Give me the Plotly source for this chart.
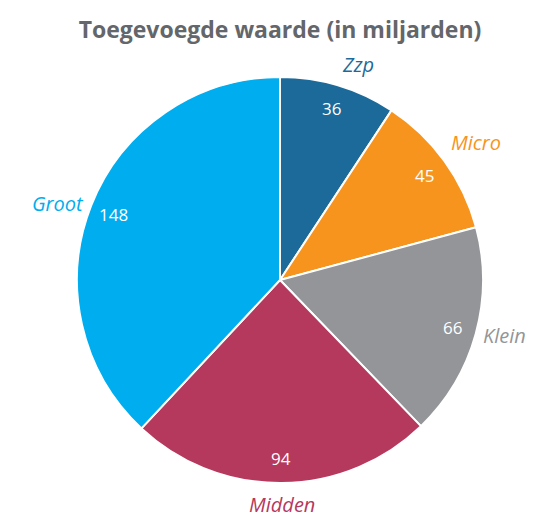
import math
import plotly.graph_objects as go

categories = ["Zzp", "Micro", "Klein", "Midden", "Groot"]
values = [36, 45, 66, 94, 148]
colors = ["#1b6a9a", "#f7941e", "#939598", "#b5395c", "#00adee"]
title_text = "Toegevoegde waarde (in miljarden)"

W, H = 534, 517
ml, mr, mt, mb = 69, 59, 69, 42
R_px = (W - ml - mr) / 2  # pie radius in pixels (square plot area)

fig = go.Figure()
fig.add_trace(go.Pie(values=values, labels=categories, sort=False, direction="clockwise",
                     rotation=0, hoverinfo="skip", showlegend=False, automargin=False,
                     marker=dict(colors=colors, line=dict(color="white", width=2)),
                     textinfo="none", domain=dict(x=[0, 1], y=[0, 1])))

# text placed along each slice's mid-angle (derived from the values)
total = sum(values)
cum = 0
annotations = []
for cat, val, col in zip(categories, values, colors):
    mid = 2 * math.pi * (cum + val / 2) / total
    cum += val
    s, c = math.sin(mid), math.cos(mid)
    # value label inside, near the rim
    kv = 0.88
    annotations.append(dict(x=0.5 + 0.5 * kv * s, y=0.5 + 0.5 * kv * c, xref="paper", yref="paper",
                            text=str(val), showarrow=False, xanchor="center", yanchor="middle",
                            font=dict(family="Open Sans", size=17, color="white")))
    # category label just outside the rim
    kl = 1 + 6 / R_px
    xa = "left" if s > 0.1 else ("right" if s < -0.1 else "center")
    ya = "bottom" if c > 0.5 else ("top" if c < -0.5 else "middle")
    annotations.append(dict(x=0.5 + 0.5 * kl * s, y=0.5 + 0.5 * kl * c, xref="paper", yref="paper",
                            text=cat, showarrow=False, xanchor=xa, yanchor=ya,
                            font=dict(family="Open Sans", size=20, color=col, style="italic")))

fig.update_layout(
    width=W, height=H,
    margin=dict(l=ml, r=mr, t=mt, b=mb),
    paper_bgcolor="white", plot_bgcolor="white",
    annotations=annotations,
    title=dict(text="<b>" + title_text + "</b>", x=0.5, xref="paper", y=1 - 22 / H,
               yanchor="middle", font=dict(family="Open Sans", size=23, color="#63666a")),
)

fig.write_html("out.html")
